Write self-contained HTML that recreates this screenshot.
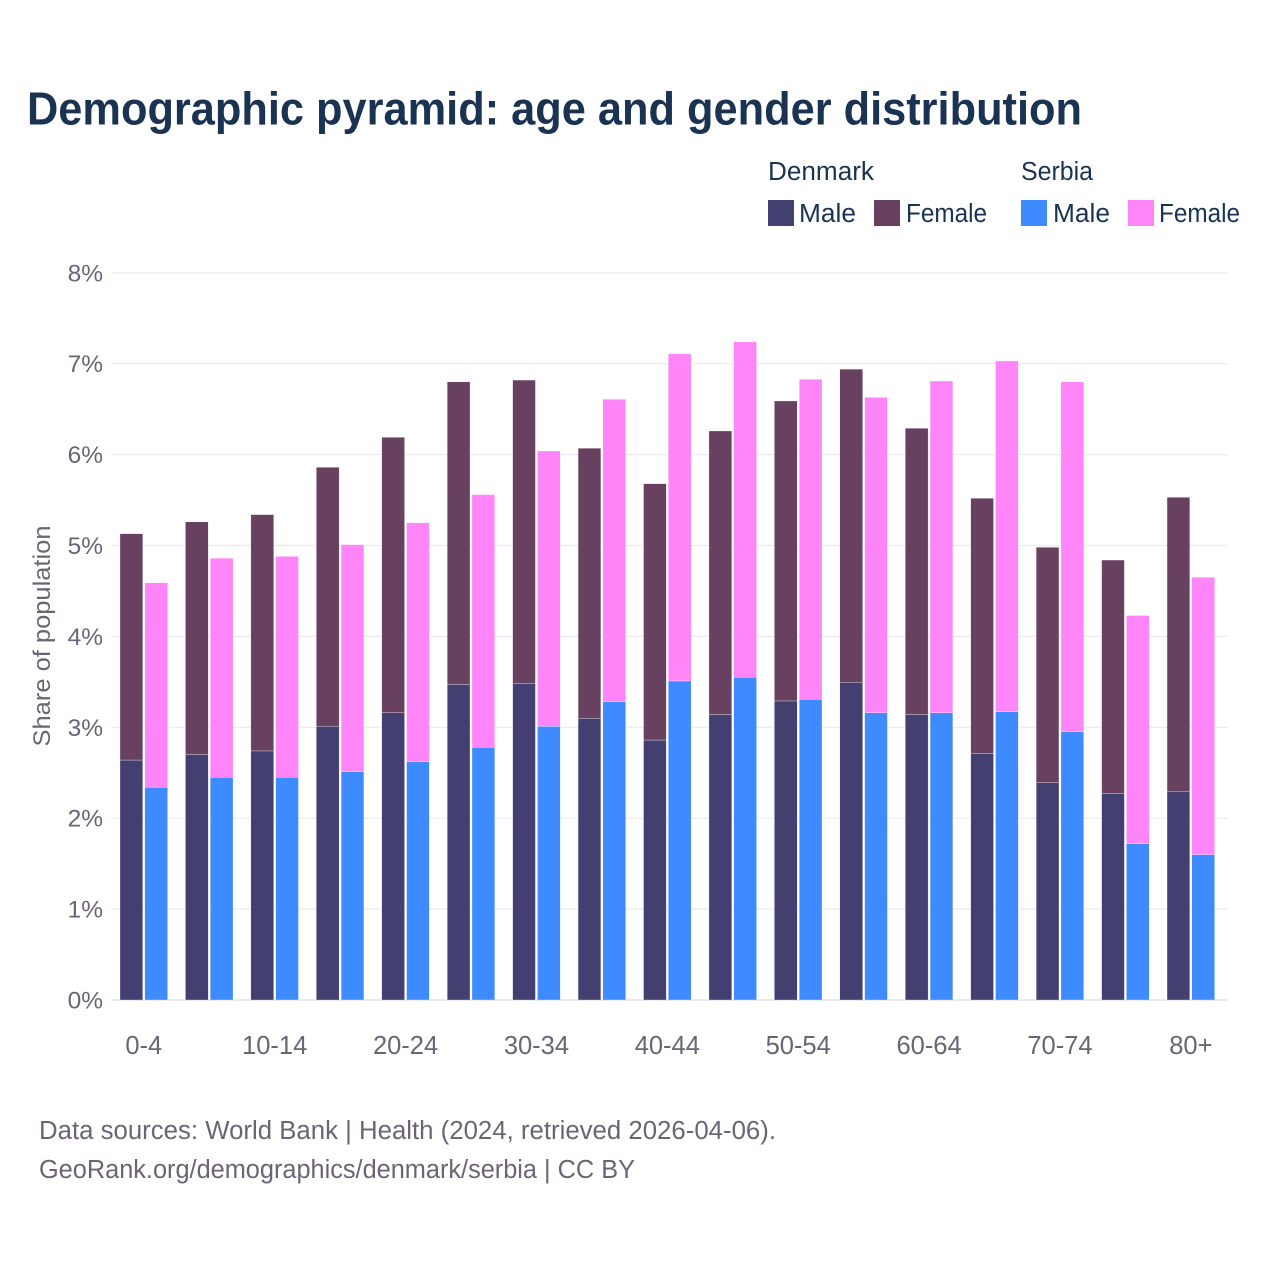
<!DOCTYPE html>
<html lang="en">
<head>
<meta charset="utf-8">
<title>Demographic pyramid</title>
<style>
html,body{margin:0;padding:0;background:#fff;}
svg{display:block;font-family:"Liberation Sans",sans-serif;}
</style>
</head>
<body>
<svg id="chart" width="1280" height="1280" viewBox="0 0 1280 1280" xmlns="http://www.w3.org/2000/svg">
  <rect width="1280" height="1280" fill="#ffffff"/>
  <text x="27" y="124.5" font-size="46" font-weight="700" fill="#1a3352" textLength="1055" lengthAdjust="spacingAndGlyphs">Demographic pyramid: age and gender distribution</text>

  <g>
    <text x="768" y="180" font-size="25.5" fill="#1a3352" textLength="106" lengthAdjust="spacingAndGlyphs">Denmark</text>
    <rect x="768" y="200" width="26" height="26" fill="#433f70"/>
    <text x="799" y="222" font-size="25.5" fill="#1a3352" textLength="57" lengthAdjust="spacingAndGlyphs">Male</text>
    <rect x="874" y="200" width="26" height="26" fill="#684060"/>
    <text x="906" y="222" font-size="25.5" fill="#1a3352" textLength="81" lengthAdjust="spacingAndGlyphs">Female</text>
    <text x="1021" y="180" font-size="25.5" fill="#1a3352" textLength="72" lengthAdjust="spacingAndGlyphs">Serbia</text>
    <rect x="1021" y="200" width="26" height="26" fill="#3e8bff"/>
    <text x="1053" y="222" font-size="25.5" fill="#1a3352" textLength="57" lengthAdjust="spacingAndGlyphs">Male</text>
    <rect x="1128" y="200" width="26" height="26" fill="#ff85f8"/>
    <text x="1159" y="222" font-size="25.5" fill="#1a3352" textLength="81" lengthAdjust="spacingAndGlyphs">Female</text>
  </g>

  <g id="grid"></g>
  <g id="bars"></g>
  <g id="ticks"></g>

  <text transform="translate(50,636) rotate(-90)" text-anchor="middle" font-size="24.5" fill="#6c6475" textLength="221" lengthAdjust="spacingAndGlyphs">Share of population</text>

  <text x="39" y="1139" font-size="25.5" fill="#6c6475" textLength="737" lengthAdjust="spacingAndGlyphs">Data sources: World Bank | Health (2024, retrieved 2026-04-06).</text>
  <text x="39" y="1178" font-size="25.5" fill="#6c6475" textLength="596" lengthAdjust="spacingAndGlyphs">GeoRank.org/demographics/denmark/serbia | CC BY</text>
</svg>
<script>
const categories = ['0-4','5-9','10-14','15-19','20-24','25-29','30-34','35-39','40-44','45-49','50-54','55-59','60-64','65-69','70-74','75-79','80+'];
const denmarkMale = [2.64,2.70,2.74,3.01,3.16,3.47,3.48,3.10,2.86,3.14,3.29,3.49,3.14,2.71,2.39,2.27,2.29];
const denmarkFemale = [2.49,2.56,2.60,2.85,3.03,3.33,3.34,2.97,2.82,3.12,3.30,3.45,3.15,2.81,2.59,2.57,3.24];
const serbiaMale = [2.34,2.45,2.45,2.51,2.62,2.78,3.01,3.28,3.51,3.55,3.31,3.16,3.16,3.17,2.95,1.72,1.60];
const serbiaFemale = [2.25,2.41,2.43,2.50,2.63,2.78,3.03,3.33,3.60,3.69,3.52,3.47,3.65,3.86,3.85,2.51,3.05];
const yTicks = [0,1,2,3,4,5,6,7,8];
const xTickLabels = ['0-4','10-14','20-24','30-34','40-44','50-54','60-64','70-74','80+'];

const NS = 'http://www.w3.org/2000/svg';
const yScale = v => 1000 - v * 90.9;
const groupCenter = i => 143.8 + i * 65.44;
const BAR_W = 22.8;
const BAR_GAP = 2;
const gridG = document.getElementById('grid');
const barsG = document.getElementById('bars');
const ticksG = document.getElementById('ticks');

yTicks.forEach(t => {
  const line = document.createElementNS(NS, 'line');
  line.setAttribute('x1', 111);
  line.setAttribute('x2', 1228);
  line.setAttribute('y1', yScale(t));
  line.setAttribute('y2', yScale(t));
  line.setAttribute('stroke', '#eceaf0');
  line.setAttribute('stroke-width', t === 0 ? 2 : 1.2);
  
  
  gridG.appendChild(line);

  const label = document.createElementNS(NS, 'text');
  label.setAttribute('x', 103);
  label.setAttribute('y', yScale(t) + 8.5);
  label.setAttribute('text-anchor', 'end');
  label.setAttribute('font-size', 24.5);
  label.setAttribute('fill', '#6c6475');
  
  
  label.textContent = t + '%';
  ticksG.appendChild(label);
});

function addBar(x, v0, v1, fill, name) {
  const r = document.createElementNS(NS, 'rect');
  r.setAttribute('x', x);
  r.setAttribute('y', yScale(v1));
  r.setAttribute('width', BAR_W);
  r.setAttribute('height', yScale(v0) - yScale(v1));
  r.setAttribute('fill', fill);
  r.setAttribute('stroke', '#ffffff');
  r.setAttribute('stroke-width', 0.3);
  
  
  barsG.appendChild(r);
}

categories.forEach((cat, i) => {
  const c = groupCenter(i);
  const dk = c - BAR_W - BAR_GAP / 2;
  const rs = c + BAR_GAP / 2;
  addBar(dk, 0, denmarkMale[i], '#433f70', 'bar-denmark-male-' + cat);
  addBar(dk, denmarkMale[i], denmarkMale[i] + denmarkFemale[i], '#684060', 'bar-denmark-female-' + cat);
  addBar(rs, 0, serbiaMale[i], '#3e8bff', 'bar-serbia-male-' + cat);
  addBar(rs, serbiaMale[i], serbiaMale[i] + serbiaFemale[i], '#ff85f8', 'bar-serbia-female-' + cat);
});

xTickLabels.forEach(lbl => {
  const idx = categories.indexOf(lbl);
  const t = document.createElementNS(NS, 'text');
  t.setAttribute('x', groupCenter(idx));
  t.setAttribute('y', 1054);
  t.setAttribute('text-anchor', 'middle');
  t.setAttribute('font-size', 25.5);
  t.setAttribute('fill', '#6c6475');
  
  
  t.textContent = lbl;
  ticksG.appendChild(t);
});
</script>
</body>
</html>
